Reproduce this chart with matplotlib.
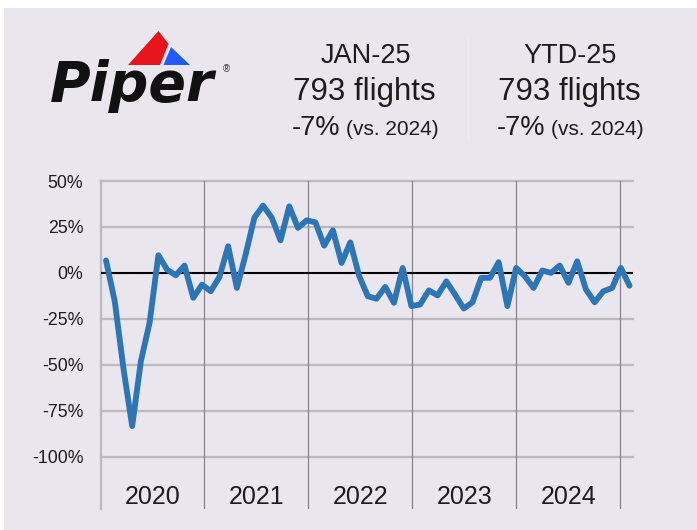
import numpy as np
import matplotlib.pyplot as plt
from matplotlib.patches import Polygon, Rectangle

# % change in monthly flights vs same month a year earlier
years = ['2020', '2021', '2022', '2023', '2024']
yoy_2020 = [6.8, -15.4, -52, -83.4, -48, -27, 9.6, 1.8, -1.3, 4, -13.6, -6.4]
yoy_2021 = [-10, -2.2, 14.5, -8.2, 10, 30, 36.6, 30, 17.7, 36.2, 24.5, 28.6]
yoy_2022 = [27.5, 14.8, 23.2, 5.4, 16.6, -1.5, -12.7, -14.1, -7.6, -16.3, 2.7, -18.1]
yoy_2023 = [-17.2, -9.5, -12.3, -4.6, -11.8, -19.4, -16, -2.7, -2.7, 5.8, -18.1, 2.7]
yoy_2024 = [-1.8, -8.2, 1.3, 0, 4, -5.4, 6.3, -9, -16, -10, -8.2, 2.7]
yoy_2025 = [-7]

yticks = [50, 25, 0, -25, -50, -75, -100]
ytick_labels = ['50%', '25%', '0%', '-25%', '-50%', '-75%', '-100%']

month_header = ['JAN-25', '793 flights', '-7%', '(vs. 2024)']
ytd_header = ['YTD-25', '793 flights', '-7%', '(vs. 2024)']

W, H = 697, 530
bg = '#EAE6ED'
blue = '#2E75B6'
txt = '#1C1C1C'

plt.rcParams['font.family'] = ['Liberation Sans', 'DejaVu Sans']

fig = plt.figure(figsize=(W / 100, H / 100), dpi=100)
fig.patch.set_facecolor('white')

# pixel-space layer: background card, logo, header numbers
pax = fig.add_axes([0, 0, 1, 1])
pax.set_xlim(0, W)
pax.set_ylim(H, 0)
pax.axis('off')
pax.add_patch(Rectangle((4, 8), W - 4, H - 8, color=bg, lw=0))

# logo
pax.add_patch(Polygon([(128, 65), (158.5, 31), (168.5, 44), (160, 65)],
                      closed=True, color='#E8141B', lw=0))
pax.add_patch(Polygon([(163.5, 65), (171, 47), (190, 65)],
                      closed=True, color='#1F5BFF', lw=0))
pax.text(50, 101, 'Piper', family='DejaVu Sans', fontweight='heavy',
         fontstyle='oblique', fontsize=40, color='#111111', va='baseline')
pax.text(223, 72, '\u00ae', fontsize=7, color='#333333', va='baseline')

# header blocks
for hdr, dx in [(month_header, 0), (ytd_header, 205)]:
    pax.text(365.5 + dx, 62.7, hdr[0], fontsize=19.5, color=txt,
             ha='center', va='baseline')
    pax.text(364.5 + dx, 100, hdr[1], fontsize=22.5, color=txt,
             ha='center', va='baseline')
    pax.text(291.7 + dx, 135, hdr[2], fontsize=19.5, color=txt,
             ha='left', va='baseline')
    pax.text(346 + dx, 135, hdr[3], fontsize=15, color=txt,
             ha='left', va='baseline')
pax.plot([467.6, 467.6], [37, 140], color='#EEEBF1', lw=1)

# main chart
ax = fig.add_axes([101 / W, 21 / H, (633.3 - 101) / W, (509 - 181) / H])
ax.set_facecolor('none')
vals = yoy_2020 + yoy_2021 + yoy_2022 + yoy_2023 + yoy_2024 + yoy_2025
x = np.arange(len(vals))
xmin, xmax = -0.573, 60.43
ax.set_xlim(xmin, xmax)
ax.set_ylim(-128.5, 50)

for v in yticks:
    if v == 0:
        ax.axhline(0, color='black', lw=1.5, zorder=3)
    else:
        ax.axhline(v, color='#BCB7C0', lw=1.6, zorder=1, clip_on=False)

ax.axvline(xmin, color='#BCB7C0', lw=1.6, zorder=1, clip_on=False)
year_lines = [11.28, 23.19, 35.11, 47.03, 58.9]
for xl in year_lines:
    ax.axvline(xl, color='#85828A', lw=0.9, zorder=2)

ax.plot(x, vals, color=blue, lw=4.2, solid_joinstyle='round',
        solid_capstyle='round', zorder=5)

bounds = [xmin] + year_lines
for i, yr in enumerate(years):
    ax.text((bounds[i] + bounds[i + 1]) / 2, -121.8, yr, fontsize=18,
            color=txt, ha='center', va='center')

ax.set_yticks(yticks, ytick_labels)
ax.set_xticks([])
ax.tick_params(axis='y', length=0, pad=12.7, labelsize=12.8, labelcolor=txt)
for s in ax.spines.values():
    s.set_visible(False)

fig.savefig('out.png', dpi=100, facecolor=fig.get_facecolor())
